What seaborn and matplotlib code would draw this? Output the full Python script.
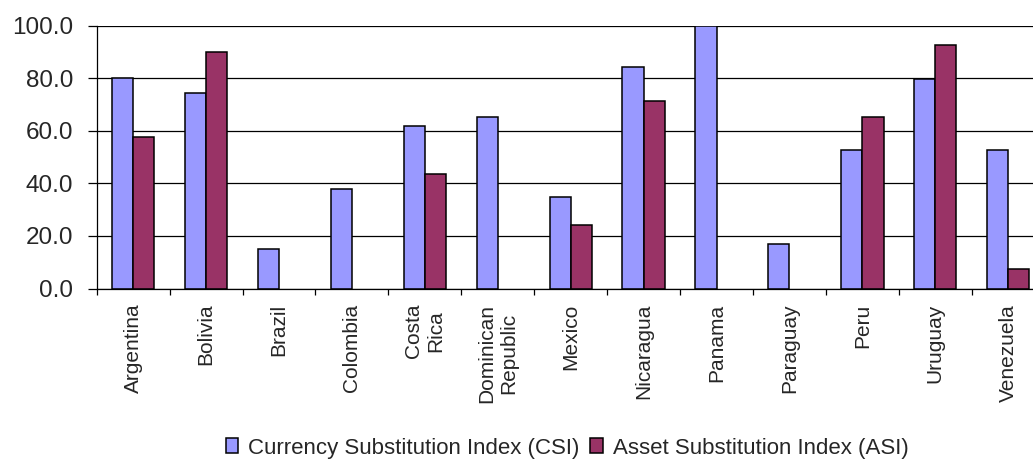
import numpy as np
import pandas as pd
import matplotlib
matplotlib.use("Agg")
import matplotlib.pyplot as plt
import seaborn as sns
from matplotlib.ticker import FixedLocator, FormatStrFormatter

countries = ["Argentina", "Bolivia", "Brazil", "Colombia", "Costa\nRica",
             "Dominican\nRepublic", "Mexico", "Nicaragua", "Panama",
             "Paraguay", "Peru", "Uruguay", "Venezuela"]
csi = [80.0, 74.5, 15.0, 37.8, 61.9, 65.1, 34.7, 84.4, 100.0, 17.1, 52.7, 79.6, 52.7]
asi = [57.7, 90.0, np.nan, np.nan, 43.4, np.nan, 24.0, 71.4, np.nan, np.nan, 65.1, 92.7, 7.3]
series = ["Currency Substitution Index (CSI)", "Asset Substitution Index (ASI)"]
colors = ["#9999FF", "#993366"]
yticks = [0, 20, 40, 60, 80, 100]

df = pd.DataFrame({
    "country": countries * 2,
    "series": [series[0]] * len(countries) + [series[1]] * len(countries),
    "value": csi + asi,
})

sns.set_style("white")
plt.rcParams["font.family"] = ["Liberation Sans", "DejaVu Sans"]

fig = plt.figure(figsize=(10.33, 4.62), dpi=100)
ax = fig.add_axes([0.0936, 0.3755, 0.9177, 0.5689])

sns.barplot(data=df, x="country", y="value", hue="series", order=countries,
            hue_order=series, palette=colors, width=0.58, errorbar=None,
            edgecolor="black", linewidth=1.1, saturation=1, ax=ax)

ax.set_xlim(-0.5, len(countries) - 0.5)
ax.set_ylim(0, 100)
ax.set_yticks(yticks)
ax.yaxis.set_major_formatter(FormatStrFormatter("%.1f"))
ax.set_xlabel("")
ax.set_ylabel("")

ax.set_axisbelow(True)
ax.yaxis.grid(True, color="black", linewidth=0.9)
ax.xaxis.grid(False)

for s in ["top", "right"]:
    ax.spines[s].set_visible(False)
for s in ["left", "bottom"]:
    ax.spines[s].set_color("black")
    ax.spines[s].set_linewidth(0.9)

ax.tick_params(axis="y", which="major", direction="out", length=6.3, width=0.9,
               color="black", pad=10.5, labelsize=17.5, left=True)
ax.set_xticks(range(len(countries)))
ax.set_xticklabels(countries, rotation=90, fontsize=15, ha="center", va="top",
                   multialignment="center")
ax.tick_params(axis="x", which="major", length=0, pad=11)
ax.xaxis.set_minor_locator(FixedLocator([i - 0.5 for i in range(len(countries) + 1)]))
ax.tick_params(axis="x", which="minor", direction="out", length=4.5, width=0.9,
               color="black", bottom=True)

handles, labels = ax.get_legend_handles_labels()
if ax.legend_:
    ax.legend_.remove()
fig.legend(handles, labels, loc="center", bbox_to_anchor=(567 / 1033, 0.030),
           ncol=2, frameon=False, fontsize=16, handlelength=0.55,
           handleheight=0.65, handletextpad=0.45, columnspacing=0.5,
           borderaxespad=0)

fig.savefig("out.png", dpi=100)
